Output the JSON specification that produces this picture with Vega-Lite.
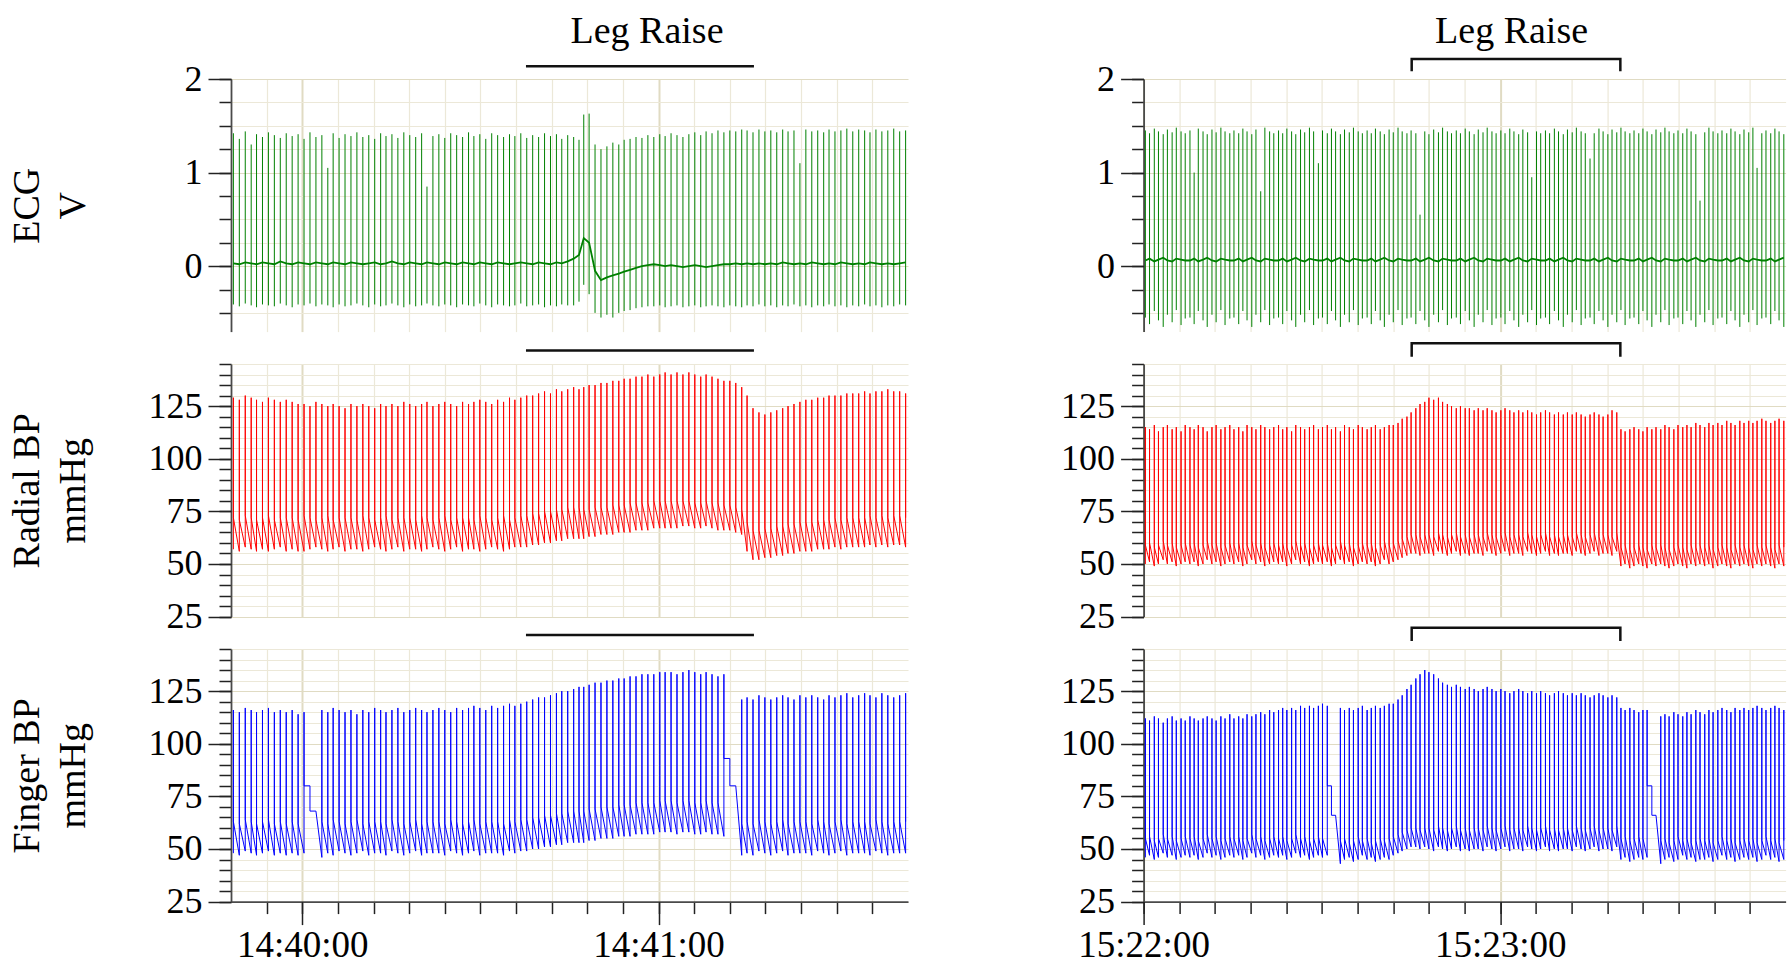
{
"$schema": "https://vega.github.io/schema/vega-lite/v6.json",
"background": "white",
"padding": {"left": 8, "top": 12, "right": 0, "bottom": 0},
"config": {
 "view": {"stroke": null},
 "font": "Liberation Serif",
 "axis": {"labelFont": "Liberation Serif", "labelFontSize": 36, "labelColor": "#000000", "titleFont": "Liberation Serif", "titleFontSize": 38, "titleFontWeight": "normal", "titleColor": "#000000", "titleLineHeight": 46, "domainColor": "#4a4a4a", "domainWidth": 1.8, "tickColor": "#222222", "tickWidth": 1.5, "gridColor": "#ece8d8", "gridWidth": 1.2, "labelPadding": 6, "labelOverlap": false, "labelFlush": false, "labelBound": false},
 "axisX": {"labelFontSize": 37, "labelPadding": 3}
},
"datasets": {
"L": [
{"t":-11.6,"e1":0.03,"e2":1.42,"e3":-0.41,"r1":57,"r2":129,"r3":72,"f1":48,"f2":116,"f3":63},
{"t":-10.6,"e1":0.02,"e2":1.36,"e3":-0.43,"r1":56,"r2":128,"r3":71,"f1":47,"f2":115,"f3":62},
{"t":-9.6,"e1":0.04,"e2":1.44,"e3":-0.40,"r1":58,"r2":130,"r3":73,"f1":49,"f2":117,"f3":64},
{"t":-8.6,"e1":0.03,"e2":1.30,"e3":-0.42,"r1":57,"r2":129,"r3":72,"f1":48,"f2":116,"f3":63},
{"t":-7.7,"e1":0.02,"e2":1.41,"e3":-0.44,"r1":56,"r2":128,"r3":71,"f1":47,"f2":115,"f3":62},
{"t":-6.7,"e1":0.04,"e2":1.38,"e3":-0.41,"r1":57,"r2":127,"r3":72,"f1":48,"f2":116,"f3":63},
{"t":-5.7,"e1":0.03,"e2":1.43,"e3":-0.42,"r1":56,"r2":129,"r3":73,"f1":49,"f2":117,"f3":64},
{"t":-4.7,"e1":0.02,"e2":1.40,"e3":-0.43,"r1":57,"r2":128,"r3":71,"f1":47,"f2":115,"f3":62},
{"t":-3.7,"e1":0.05,"e2":1.37,"e3":-0.40,"r1":58,"r2":127,"r3":72,"f1":48,"f2":116,"f3":63},
{"t":-2.7,"e1":0.03,"e2":1.42,"e3":-0.42,"r1":56,"r2":128,"r3":72,"f1":47,"f2":115,"f3":62},
{"t":-1.7,"e1":0.02,"e2":1.39,"e3":-0.44,"r1":57,"r2":127,"r3":72,"f1":48,"f2":116,"f3":63},
{"t":-0.7,"e1":0.04,"e2":1.41,"e3":-0.41,"r1":56,"r2":126,"r3":71,"f1":47,"f2":114,"f3":62},
{"t":0.3,"e1":0.03,"e2":1.36,"e3":-0.42,"r1":56,"r2":126,"r3":73,"f1":48,"f2":115,"f3":80},
{"t":1.3,"e1":0.02,"e2":1.43,"e3":-0.40,"r1":57,"r2":125,"r3":72,"f1":80,"f2":80,"f3":68},
{"t":2.3,"e1":0.04,"e2":1.38,"e3":-0.43,"r1":58,"r2":127,"r3":71,"f1":68,"f2":68,"f3":68},
{"t":3.3,"e1":0.03,"e2":1.40,"e3":-0.41,"r1":57,"r2":126,"r3":72,"f1":46,"f2":116,"f3":63},
{"t":4.3,"e1":0.02,"e2":1.05,"e3":-0.42,"r1":56,"r2":125,"r3":73,"f1":48,"f2":115,"f3":62},
{"t":5.2,"e1":0.04,"e2":1.42,"e3":-0.44,"r1":57,"r2":126,"r3":71,"f1":47,"f2":117,"f3":64},
{"t":6.2,"e1":0.03,"e2":1.37,"e3":-0.41,"r1":58,"r2":125,"r3":72,"f1":49,"f2":116,"f3":63},
{"t":7.2,"e1":0.02,"e2":1.41,"e3":-0.43,"r1":56,"r2":124,"r3":72,"f1":48,"f2":115,"f3":62},
{"t":8.2,"e1":0.04,"e2":1.39,"e3":-0.42,"r1":57,"r2":126,"r3":72,"f1":47,"f2":116,"f3":63},
{"t":9.2,"e1":0.03,"e2":1.43,"e3":-0.40,"r1":57,"r2":125,"r3":71,"f1":48,"f2":114,"f3":64},
{"t":10.2,"e1":0.02,"e2":1.38,"e3":-0.42,"r1":56,"r2":126,"r3":73,"f1":49,"f2":116,"f3":62},
{"t":11.2,"e1":0.03,"e2":1.40,"e3":-0.44,"r1":57,"r2":125,"r3":72,"f1":47,"f2":115,"f3":63},
{"t":12.2,"e1":0.04,"e2":1.36,"e3":-0.41,"r1":58,"r2":124,"r3":71,"f1":48,"f2":117,"f3":63},
{"t":13.2,"e1":0.02,"e2":1.42,"e3":-0.43,"r1":57,"r2":126,"r3":72,"f1":48,"f2":116,"f3":63},
{"t":14.1,"e1":0.03,"e2":1.39,"e3":-0.42,"r1":56,"r2":125,"r3":73,"f1":47,"f2":115,"f3":62},
{"t":15.1,"e1":0.05,"e2":1.41,"e3":-0.40,"r1":57,"r2":126,"r3":71,"f1":49,"f2":116,"f3":64},
{"t":16.1,"e1":0.03,"e2":1.37,"e3":-0.42,"r1":58,"r2":125,"r3":72,"f1":48,"f2":117,"f3":63},
{"t":17.1,"e1":0.02,"e2":1.43,"e3":-0.44,"r1":56,"r2":127,"r3":72,"f1":47,"f2":115,"f3":62},
{"t":18.1,"e1":0.04,"e2":1.40,"e3":-0.41,"r1":57,"r2":126,"r3":72,"f1":48,"f2":116,"f3":63},
{"t":19.1,"e1":0.03,"e2":1.38,"e3":-0.43,"r1":57,"r2":125,"r3":71,"f1":49,"f2":117,"f3":64},
{"t":20.1,"e1":0.02,"e2":1.42,"e3":-0.42,"r1":56,"r2":126,"r3":73,"f1":47,"f2":116,"f3":62},
{"t":21.0,"e1":0.04,"e2":0.85,"e3":-0.40,"r1":57,"r2":127,"r3":72,"f1":48,"f2":115,"f3":63},
{"t":22.0,"e1":0.03,"e2":1.39,"e3":-0.42,"r1":58,"r2":125,"r3":71,"f1":48,"f2":116,"f3":63},
{"t":23.0,"e1":0.02,"e2":1.41,"e3":-0.43,"r1":57,"r2":126,"r3":72,"f1":48,"f2":117,"f3":63},
{"t":24.0,"e1":0.04,"e2":1.37,"e3":-0.41,"r1":56,"r2":127,"r3":73,"f1":47,"f2":116,"f3":62},
{"t":25.0,"e1":0.03,"e2":1.42,"e3":-0.42,"r1":57,"r2":126,"r3":71,"f1":49,"f2":115,"f3":64},
{"t":26.0,"e1":0.02,"e2":1.40,"e3":-0.44,"r1":58,"r2":125,"r3":72,"f1":48,"f2":117,"f3":63},
{"t":27.0,"e1":0.04,"e2":1.38,"e3":-0.41,"r1":56,"r2":127,"r3":72,"f1":47,"f2":116,"f3":62},
{"t":28.0,"e1":0.03,"e2":1.43,"e3":-0.42,"r1":57,"r2":126,"r3":72,"f1":48,"f2":117,"f3":63},
{"t":28.9,"e1":0.02,"e2":1.39,"e3":-0.43,"r1":57,"r2":127,"r3":71,"f1":49,"f2":118,"f3":64},
{"t":29.9,"e1":0.04,"e2":1.41,"e3":-0.40,"r1":56,"r2":128,"r3":73,"f1":47,"f2":117,"f3":62},
{"t":30.9,"e1":0.03,"e2":1.36,"e3":-0.42,"r1":57,"r2":127,"r3":72,"f1":48,"f2":116,"f3":63},
{"t":31.9,"e1":0.02,"e2":1.42,"e3":-0.44,"r1":58,"r2":126,"r3":71,"f1":48,"f2":118,"f3":63},
{"t":32.9,"e1":0.04,"e2":1.40,"e3":-0.41,"r1":57,"r2":128,"r3":72,"f1":48,"f2":117,"f3":63},
{"t":33.9,"e1":0.03,"e2":1.38,"e3":-0.42,"r1":56,"r2":127,"r3":73,"f1":47,"f2":118,"f3":62},
{"t":34.9,"e1":0.02,"e2":1.41,"e3":-0.43,"r1":57,"r2":129,"r3":71,"f1":49,"f2":119,"f3":64},
{"t":35.8,"e1":0.03,"e2":1.39,"e3":-0.42,"r1":58,"r2":128,"r3":72,"f1":48,"f2":118,"f3":63},
{"t":36.8,"e1":0.04,"e2":1.42,"e3":-0.40,"r1":58,"r2":129,"r3":73,"f1":49,"f2":119,"f3":64},
{"t":37.8,"e1":0.03,"e2":1.37,"e3":-0.43,"r1":58,"r2":130,"r3":73,"f1":49,"f2":120,"f3":64},
{"t":38.8,"e1":0.02,"e2":1.40,"e3":-0.42,"r1":59,"r2":130,"r3":74,"f1":50,"f2":121,"f3":65},
{"t":39.8,"e1":0.04,"e2":1.38,"e3":-0.41,"r1":59,"r2":131,"r3":74,"f1":50,"f2":122,"f3":65},
{"t":40.8,"e1":0.03,"e2":1.42,"e3":-0.44,"r1":60,"r2":132,"r3":75,"f1":51,"f2":122,"f3":66},
{"t":41.8,"e1":0.02,"e2":1.39,"e3":-0.42,"r1":60,"r2":131,"r3":75,"f1":51,"f2":123,"f3":66},
{"t":42.8,"e1":0.04,"e2":1.41,"e3":-0.43,"r1":61,"r2":133,"r3":76,"f1":52,"f2":124,"f3":67},
{"t":43.7,"e1":0.03,"e2":1.36,"e3":-0.41,"r1":61,"r2":132,"r3":76,"f1":52,"f2":125,"f3":67},
{"t":44.7,"e1":0.05,"e2":1.40,"e3":-0.42,"r1":62,"r2":133,"r3":77,"f1":53,"f2":125,"f3":68},
{"t":45.7,"e1":0.08,"e2":1.38,"e3":-0.42,"r1":62,"r2":134,"r3":77,"f1":53,"f2":126,"f3":68},
{"t":46.6,"e1":0.12,"e2":1.35,"e3":-0.38,"r1":62,"r2":133,"r3":77,"f1":53,"f2":127,"f3":68},
{"t":47.4,"e1":0.30,"e2":1.62,"e3":-0.20,"r1":62,"r2":134,"r3":76,"f1":53,"f2":127,"f3":68},
{"t":48.3,"e1":0.25,"e2":1.63,"e3":-0.30,"r1":63,"r2":135,"r3":76,"f1":54,"f2":128,"f3":69},
{"t":49.3,"e1":-0.05,"e2":1.30,"e3":-0.50,"r1":63,"r2":135,"r3":77,"f1":54,"f2":129,"f3":69},
{"t":50.3,"e1":-0.15,"e2":1.25,"e3":-0.55,"r1":64,"r2":136,"r3":77,"f1":55,"f2":129,"f3":70},
{"t":51.3,"e1":-0.12,"e2":1.28,"e3":-0.52,"r1":64,"r2":136,"r3":77,"f1":55,"f2":130,"f3":70},
{"t":52.3,"e1":-0.10,"e2":1.32,"e3":-0.55,"r1":64,"r2":137,"r3":78,"f1":55,"f2":130,"f3":70},
{"t":53.3,"e1":-0.08,"e2":1.30,"e3":-0.50,"r1":65,"r2":137,"r3":78,"f1":56,"f2":131,"f3":71},
{"t":54.2,"e1":-0.06,"e2":1.35,"e3":-0.48,"r1":65,"r2":138,"r3":78,"f1":56,"f2":131,"f3":71},
{"t":55.2,"e1":-0.04,"e2":1.36,"e3":-0.47,"r1":65,"r2":138,"r3":79,"f1":56,"f2":132,"f3":71},
{"t":56.2,"e1":-0.02,"e2":1.38,"e3":-0.45,"r1":66,"r2":139,"r3":79,"f1":57,"f2":132,"f3":72},
{"t":57.2,"e1":0.00,"e2":1.37,"e3":-0.44,"r1":66,"r2":139,"r3":79,"f1":57,"f2":133,"f3":72},
{"t":58.2,"e1":0.01,"e2":1.40,"e3":-0.43,"r1":66,"r2":140,"r3":79,"f1":57,"f2":133,"f3":72},
{"t":59.2,"e1":0.02,"e2":1.38,"e3":-0.43,"r1":67,"r2":139,"r3":80,"f1":57,"f2":133,"f3":72},
{"t":60.2,"e1":0.01,"e2":1.41,"e3":-0.42,"r1":67,"r2":140,"r3":80,"f1":58,"f2":134,"f3":73},
{"t":61.1,"e1":0.00,"e2":1.39,"e3":-0.44,"r1":67,"r2":141,"r3":80,"f1":58,"f2":134,"f3":73},
{"t":62.1,"e1":0.01,"e2":1.42,"e3":-0.43,"r1":67,"r2":140,"r3":80,"f1":58,"f2":134,"f3":73},
{"t":63.1,"e1":0.00,"e2":1.40,"e3":-0.42,"r1":67,"r2":141,"r3":80,"f1":57,"f2":133,"f3":72},
{"t":64.1,"e1":-0.01,"e2":1.38,"e3":-0.44,"r1":68,"r2":140,"r3":80,"f1":58,"f2":134,"f3":73},
{"t":65.1,"e1":0.00,"e2":1.41,"e3":-0.43,"r1":68,"r2":141,"r3":80,"f1":58,"f2":135,"f3":73},
{"t":66.1,"e1":0.01,"e2":1.43,"e3":-0.42,"r1":67,"r2":140,"r3":79,"f1":57,"f2":134,"f3":72},
{"t":67.1,"e1":0.00,"e2":1.40,"e3":-0.44,"r1":67,"r2":139,"r3":79,"f1":57,"f2":133,"f3":72},
{"t":68.0,"e1":-0.01,"e2":1.44,"e3":-0.43,"r1":68,"r2":140,"r3":80,"f1":58,"f2":134,"f3":73},
{"t":69.0,"e1":0.00,"e2":1.42,"e3":-0.42,"r1":67,"r2":139,"r3":79,"f1":57,"f2":133,"f3":72},
{"t":70.0,"e1":0.01,"e2":1.45,"e3":-0.43,"r1":66,"r2":138,"r3":79,"f1":57,"f2":132,"f3":72},
{"t":71.0,"e1":0.02,"e2":1.43,"e3":-0.44,"r1":66,"r2":137,"r3":78,"f1":56,"f2":133,"f3":93},
{"t":72.0,"e1":0.02,"e2":1.45,"e3":-0.42,"r1":66,"r2":137,"r3":78,"f1":93,"f2":93,"f3":80},
{"t":73.0,"e1":0.03,"e2":1.44,"e3":-0.43,"r1":65,"r2":136,"r3":77,"f1":80,"f2":80,"f3":80},
{"t":74.0,"e1":0.02,"e2":1.46,"e3":-0.44,"r1":64,"r2":134,"r3":76,"f1":47,"f2":121,"f3":62},
{"t":74.9,"e1":0.03,"e2":1.45,"e3":-0.42,"r1":56,"r2":130,"r3":70,"f1":48,"f2":122,"f3":63},
{"t":75.9,"e1":0.02,"e2":1.43,"e3":-0.43,"r1":52,"r2":124,"r3":66,"f1":47,"f2":121,"f3":62},
{"t":76.9,"e1":0.03,"e2":1.46,"e3":-0.41,"r1":52,"r2":122,"r3":66,"f1":49,"f2":123,"f3":64},
{"t":77.9,"e1":0.02,"e2":1.44,"e3":-0.43,"r1":53,"r2":121,"r3":67,"f1":48,"f2":122,"f3":63},
{"t":78.9,"e1":0.03,"e2":1.45,"e3":-0.42,"r1":53,"r2":122,"r3":67,"f1":47,"f2":121,"f3":62},
{"t":79.9,"e1":0.02,"e2":1.43,"e3":-0.44,"r1":54,"r2":123,"r3":68,"f1":48,"f2":122,"f3":63},
{"t":80.9,"e1":0.04,"e2":1.46,"e3":-0.42,"r1":54,"r2":124,"r3":68,"f1":49,"f2":123,"f3":64},
{"t":81.8,"e1":0.03,"e2":1.44,"e3":-0.43,"r1":55,"r2":125,"r3":69,"f1":47,"f2":122,"f3":62},
{"t":82.8,"e1":0.02,"e2":1.45,"e3":-0.41,"r1":55,"r2":126,"r3":69,"f1":48,"f2":121,"f3":63},
{"t":83.8,"e1":0.03,"e2":1.10,"e3":-0.43,"r1":56,"r2":127,"r3":70,"f1":48,"f2":123,"f3":63},
{"t":84.8,"e1":0.02,"e2":1.46,"e3":-0.42,"r1":56,"r2":128,"r3":70,"f1":48,"f2":122,"f3":63},
{"t":85.8,"e1":0.04,"e2":1.44,"e3":-0.44,"r1":56,"r2":128,"r3":70,"f1":47,"f2":123,"f3":62},
{"t":86.8,"e1":0.03,"e2":1.45,"e3":-0.42,"r1":57,"r2":129,"r3":71,"f1":49,"f2":122,"f3":64},
{"t":87.8,"e1":0.02,"e2":1.43,"e3":-0.43,"r1":57,"r2":129,"r3":71,"f1":48,"f2":121,"f3":63},
{"t":88.7,"e1":0.03,"e2":1.46,"e3":-0.41,"r1":57,"r2":130,"r3":71,"f1":47,"f2":123,"f3":62},
{"t":89.7,"e1":0.02,"e2":1.44,"e3":-0.43,"r1":58,"r2":130,"r3":72,"f1":48,"f2":122,"f3":63},
{"t":90.7,"e1":0.04,"e2":1.45,"e3":-0.42,"r1":57,"r2":130,"r3":71,"f1":49,"f2":123,"f3":64},
{"t":91.7,"e1":0.03,"e2":1.47,"e3":-0.44,"r1":58,"r2":131,"r3":72,"f1":47,"f2":124,"f3":62},
{"t":92.7,"e1":0.02,"e2":1.44,"e3":-0.42,"r1":58,"r2":131,"r3":72,"f1":48,"f2":122,"f3":63},
{"t":93.7,"e1":0.03,"e2":1.46,"e3":-0.43,"r1":58,"r2":131,"r3":72,"f1":48,"f2":123,"f3":63},
{"t":94.7,"e1":0.02,"e2":1.45,"e3":-0.41,"r1":58,"r2":132,"r3":72,"f1":48,"f2":124,"f3":63},
{"t":95.6,"e1":0.04,"e2":1.43,"e3":-0.43,"r1":59,"r2":131,"r3":73,"f1":47,"f2":123,"f3":62},
{"t":96.6,"e1":0.03,"e2":1.46,"e3":-0.42,"r1":58,"r2":132,"r3":72,"f1":49,"f2":122,"f3":64},
{"t":97.6,"e1":0.02,"e2":1.44,"e3":-0.44,"r1":59,"r2":132,"r3":73,"f1":48,"f2":124,"f3":63},
{"t":98.6,"e1":0.03,"e2":1.45,"e3":-0.42,"r1":58,"r2":133,"r3":72,"f1":47,"f2":123,"f3":62},
{"t":99.6,"e1":0.02,"e2":1.47,"e3":-0.43,"r1":59,"r2":132,"r3":73,"f1":48,"f2":122,"f3":63},
{"t":100.6,"e1":0.03,"e2":1.44,"e3":-0.41,"r1":59,"r2":132,"r3":73,"f1":48,"f2":123,"f3":63},
{"t":101.6,"e1":0.04,"e2":1.45,"e3":-0.42,"r1":58,"r2":131,"r3":72,"f1":48,"f2":124,"f3":63}
],
"R": [
{"t":0.3,"e1":0.06,"e2":1.45,"e3":-0.55,"r1":50,"r2":115,"r3":59,"f1":46,"f2":112,"f3":55},
{"t":1.0,"e1":0.08,"e2":1.42,"e3":-0.62,"r1":51,"r2":114,"r3":60,"f1":47,"f2":111,"f3":56},
{"t":1.8,"e1":0.05,"e2":1.47,"e3":-0.48,"r1":49,"r2":116,"r3":58,"f1":45,"f2":113,"f3":54},
{"t":2.5,"e1":0.07,"e2":1.44,"e3":-0.58,"r1":50,"r2":113,"r3":59,"f1":46,"f2":112,"f3":55},
{"t":3.3,"e1":0.09,"e2":1.41,"e3":-0.65,"r1":52,"r2":115,"r3":61,"f1":48,"f2":110,"f3":57},
{"t":4.0,"e1":0.06,"e2":1.46,"e3":-0.52,"r1":50,"r2":116,"r3":59,"f1":46,"f2":112,"f3":55},
{"t":4.8,"e1":0.05,"e2":1.43,"e3":-0.60,"r1":51,"r2":114,"r3":60,"f1":47,"f2":113,"f3":56},
{"t":5.5,"e1":0.08,"e2":1.48,"e3":-0.47,"r1":49,"r2":115,"r3":58,"f1":45,"f2":111,"f3":54},
{"t":6.3,"e1":0.07,"e2":1.44,"e3":-0.63,"r1":50,"r2":113,"r3":59,"f1":46,"f2":112,"f3":55},
{"t":7.0,"e1":0.06,"e2":1.42,"e3":-0.56,"r1":51,"r2":116,"r3":60,"f1":47,"f2":111,"f3":56},
{"t":7.8,"e1":0.06,"e2":1.45,"e3":-0.55,"r1":50,"r2":115,"r3":59,"f1":46,"f2":113,"f3":55},
{"t":8.5,"e1":0.08,"e2":1.00,"e3":-0.62,"r1":51,"r2":114,"r3":60,"f1":47,"f2":112,"f3":56},
{"t":9.2,"e1":0.05,"e2":1.47,"e3":-0.48,"r1":49,"r2":116,"r3":58,"f1":45,"f2":111,"f3":54},
{"t":10.0,"e1":0.07,"e2":1.44,"e3":-0.58,"r1":50,"r2":115,"r3":59,"f1":46,"f2":112,"f3":55},
{"t":10.7,"e1":0.09,"e2":1.41,"e3":-0.65,"r1":52,"r2":113,"r3":61,"f1":48,"f2":113,"f3":57},
{"t":11.5,"e1":0.06,"e2":1.46,"e3":-0.52,"r1":50,"r2":115,"r3":59,"f1":46,"f2":112,"f3":55},
{"t":12.2,"e1":0.05,"e2":1.43,"e3":-0.60,"r1":51,"r2":116,"r3":60,"f1":47,"f2":111,"f3":56},
{"t":13.0,"e1":0.08,"e2":1.48,"e3":-0.47,"r1":49,"r2":114,"r3":58,"f1":45,"f2":113,"f3":54},
{"t":13.7,"e1":0.07,"e2":1.44,"e3":-0.63,"r1":50,"r2":115,"r3":59,"f1":46,"f2":112,"f3":55},
{"t":14.5,"e1":0.06,"e2":1.42,"e3":-0.56,"r1":51,"r2":116,"r3":60,"f1":47,"f2":114,"f3":56},
{"t":15.2,"e1":0.06,"e2":1.45,"e3":-0.55,"r1":50,"r2":114,"r3":59,"f1":46,"f2":112,"f3":55},
{"t":16.0,"e1":0.08,"e2":1.42,"e3":-0.62,"r1":51,"r2":115,"r3":60,"f1":47,"f2":113,"f3":56},
{"t":16.7,"e1":0.05,"e2":1.47,"e3":-0.48,"r1":49,"r2":113,"r3":58,"f1":45,"f2":112,"f3":54},
{"t":17.4,"e1":0.07,"e2":1.44,"e3":-0.58,"r1":50,"r2":116,"r3":59,"f1":46,"f2":114,"f3":55},
{"t":18.2,"e1":0.09,"e2":1.41,"e3":-0.65,"r1":52,"r2":115,"r3":61,"f1":48,"f2":113,"f3":57},
{"t":18.9,"e1":0.06,"e2":1.46,"e3":-0.52,"r1":50,"r2":114,"r3":59,"f1":46,"f2":114,"f3":55},
{"t":19.7,"e1":0.05,"e2":0.80,"e3":-0.60,"r1":51,"r2":116,"r3":60,"f1":47,"f2":115,"f3":56},
{"t":20.4,"e1":0.08,"e2":1.48,"e3":-0.47,"r1":49,"r2":115,"r3":58,"f1":45,"f2":114,"f3":54},
{"t":21.2,"e1":0.07,"e2":1.44,"e3":-0.63,"r1":50,"r2":114,"r3":59,"f1":46,"f2":116,"f3":55},
{"t":21.9,"e1":0.06,"e2":1.42,"e3":-0.56,"r1":51,"r2":115,"r3":60,"f1":47,"f2":115,"f3":56},
{"t":22.7,"e1":0.06,"e2":1.45,"e3":-0.55,"r1":50,"r2":116,"r3":59,"f1":46,"f2":116,"f3":55},
{"t":23.4,"e1":0.08,"e2":1.42,"e3":-0.62,"r1":51,"r2":114,"r3":60,"f1":47,"f2":117,"f3":56},
{"t":24.1,"e1":0.05,"e2":1.47,"e3":-0.48,"r1":49,"r2":115,"r3":58,"f1":45,"f2":116,"f3":54},
{"t":24.9,"e1":0.07,"e2":1.44,"e3":-0.58,"r1":50,"r2":113,"r3":59,"f1":46,"f2":117,"f3":55},
{"t":25.6,"e1":0.09,"e2":1.41,"e3":-0.65,"r1":52,"r2":116,"r3":61,"f1":48,"f2":116,"f3":57},
{"t":26.4,"e1":0.06,"e2":1.46,"e3":-0.52,"r1":50,"r2":115,"r3":59,"f1":46,"f2":118,"f3":55},
{"t":27.1,"e1":0.05,"e2":1.43,"e3":-0.60,"r1":51,"r2":114,"r3":60,"f1":47,"f2":117,"f3":56},
{"t":27.9,"e1":0.08,"e2":1.48,"e3":-0.47,"r1":49,"r2":115,"r3":58,"f1":45,"f2":118,"f3":54},
{"t":28.6,"e1":0.07,"e2":1.44,"e3":-0.63,"r1":50,"r2":116,"r3":59,"f1":46,"f2":117,"f3":55},
{"t":29.4,"e1":0.06,"e2":1.10,"e3":-0.56,"r1":51,"r2":114,"r3":60,"f1":47,"f2":118,"f3":56},
{"t":30.1,"e1":0.06,"e2":1.45,"e3":-0.55,"r1":50,"r2":115,"r3":59,"f1":46,"f2":119,"f3":55},
{"t":30.9,"e1":0.08,"e2":1.42,"e3":-0.62,"r1":51,"r2":116,"r3":60,"f1":47,"f2":118,"f3":80},
{"t":31.6,"e1":0.05,"e2":1.47,"e3":-0.48,"r1":49,"r2":114,"r3":58,"f1":80,"f2":80,"f3":66},
{"t":32.3,"e1":0.07,"e2":1.44,"e3":-0.58,"r1":50,"r2":115,"r3":59,"f1":66,"f2":66,"f3":66},
{"t":33.1,"e1":0.09,"e2":1.41,"e3":-0.65,"r1":52,"r2":113,"r3":61,"f1":43,"f2":117,"f3":54},
{"t":33.8,"e1":0.06,"e2":1.46,"e3":-0.52,"r1":50,"r2":116,"r3":59,"f1":45,"f2":116,"f3":55},
{"t":34.6,"e1":0.05,"e2":1.43,"e3":-0.60,"r1":51,"r2":115,"r3":60,"f1":46,"f2":117,"f3":53},
{"t":35.3,"e1":0.08,"e2":1.48,"e3":-0.47,"r1":49,"r2":114,"r3":58,"f1":44,"f2":116,"f3":54},
{"t":36.1,"e1":0.07,"e2":1.44,"e3":-0.63,"r1":50,"r2":116,"r3":59,"f1":45,"f2":117,"f3":56},
{"t":36.8,"e1":0.06,"e2":1.42,"e3":-0.56,"r1":51,"r2":115,"r3":60,"f1":47,"f2":118,"f3":54},
{"t":37.6,"e1":0.06,"e2":1.45,"e3":-0.55,"r1":50,"r2":114,"r3":59,"f1":45,"f2":116,"f3":55},
{"t":38.3,"e1":0.08,"e2":1.42,"e3":-0.62,"r1":51,"r2":115,"r3":60,"f1":46,"f2":117,"f3":53},
{"t":39.0,"e1":0.05,"e2":1.47,"e3":-0.48,"r1":49,"r2":116,"r3":58,"f1":44,"f2":118,"f3":54},
{"t":39.8,"e1":0.07,"e2":1.44,"e3":-0.58,"r1":50,"r2":114,"r3":59,"f1":45,"f2":117,"f3":55},
{"t":40.5,"e1":0.09,"e2":1.41,"e3":-0.65,"r1":52,"r2":115,"r3":61,"f1":46,"f2":118,"f3":54},
{"t":41.3,"e1":0.06,"e2":1.46,"e3":-0.52,"r1":50,"r2":116,"r3":59,"f1":45,"f2":119,"f3":55},
{"t":42.0,"e1":0.05,"e2":1.43,"e3":-0.60,"r1":51,"r2":116,"r3":60,"f1":47,"f2":119,"f3":56},
{"t":42.8,"e1":0.08,"e2":1.48,"e3":-0.47,"r1":52,"r2":117,"r3":61,"f1":48,"f2":121,"f3":57},
{"t":43.5,"e1":0.07,"e2":1.44,"e3":-0.63,"r1":53,"r2":119,"r3":62,"f1":49,"f2":123,"f3":58},
{"t":44.3,"e1":0.06,"e2":1.42,"e3":-0.56,"r1":54,"r2":120,"r3":63,"f1":50,"f2":126,"f3":59},
{"t":45.0,"e1":0.06,"e2":1.45,"e3":-0.55,"r1":55,"r2":122,"r3":64,"f1":51,"f2":128,"f3":60},
{"t":45.8,"e1":0.08,"e2":1.42,"e3":-0.62,"r1":55,"r2":124,"r3":64,"f1":51,"f2":131,"f3":60},
{"t":46.5,"e1":0.05,"e2":0.55,"e3":-0.48,"r1":54,"r2":126,"r3":63,"f1":50,"f2":133,"f3":59},
{"t":47.3,"e1":0.07,"e2":1.44,"e3":-0.58,"r1":55,"r2":127,"r3":64,"f1":51,"f2":135,"f3":60},
{"t":48.0,"e1":0.09,"e2":1.41,"e3":-0.65,"r1":55,"r2":129,"r3":64,"f1":50,"f2":134,"f3":60},
{"t":48.8,"e1":0.06,"e2":1.46,"e3":-0.52,"r1":54,"r2":128,"r3":63,"f1":49,"f2":133,"f3":59},
{"t":49.6,"e1":0.05,"e2":1.43,"e3":-0.60,"r1":56,"r2":129,"r3":65,"f1":51,"f2":131,"f3":61},
{"t":50.3,"e1":0.08,"e2":1.48,"e3":-0.47,"r1":55,"r2":127,"r3":64,"f1":50,"f2":129,"f3":60},
{"t":51.1,"e1":0.07,"e2":1.44,"e3":-0.63,"r1":54,"r2":126,"r3":63,"f1":49,"f2":128,"f3":59},
{"t":51.8,"e1":0.06,"e2":1.42,"e3":-0.56,"r1":55,"r2":125,"r3":64,"f1":50,"f2":127,"f3":60},
{"t":52.6,"e1":0.06,"e2":1.45,"e3":-0.55,"r1":56,"r2":124,"r3":65,"f1":51,"f2":128,"f3":61},
{"t":53.3,"e1":0.08,"e2":1.42,"e3":-0.62,"r1":54,"r2":125,"r3":63,"f1":49,"f2":127,"f3":59},
{"t":54.1,"e1":0.05,"e2":1.47,"e3":-0.48,"r1":55,"r2":124,"r3":64,"f1":50,"f2":126,"f3":60},
{"t":54.8,"e1":0.07,"e2":1.44,"e3":-0.58,"r1":54,"r2":124,"r3":63,"f1":49,"f2":127,"f3":59},
{"t":55.6,"e1":0.09,"e2":1.41,"e3":-0.65,"r1":55,"r2":123,"r3":64,"f1":50,"f2":126,"f3":60},
{"t":56.3,"e1":0.06,"e2":1.46,"e3":-0.52,"r1":55,"r2":124,"r3":64,"f1":50,"f2":125,"f3":60},
{"t":57.1,"e1":0.05,"e2":1.43,"e3":-0.60,"r1":54,"r2":123,"r3":63,"f1":49,"f2":126,"f3":59},
{"t":57.8,"e1":0.08,"e2":1.48,"e3":-0.47,"r1":56,"r2":124,"r3":65,"f1":51,"f2":127,"f3":61},
{"t":58.6,"e1":0.07,"e2":1.44,"e3":-0.63,"r1":55,"r2":123,"r3":64,"f1":50,"f2":126,"f3":60},
{"t":59.3,"e1":0.06,"e2":1.42,"e3":-0.56,"r1":54,"r2":122,"r3":63,"f1":49,"f2":125,"f3":59},
{"t":60.1,"e1":0.06,"e2":1.45,"e3":-0.55,"r1":55,"r2":123,"r3":64,"f1":50,"f2":126,"f3":60},
{"t":60.8,"e1":0.08,"e2":1.42,"e3":-0.62,"r1":56,"r2":124,"r3":65,"f1":51,"f2":125,"f3":61},
{"t":61.6,"e1":0.05,"e2":1.47,"e3":-0.48,"r1":54,"r2":123,"r3":63,"f1":49,"f2":124,"f3":59},
{"t":62.3,"e1":0.07,"e2":1.44,"e3":-0.58,"r1":55,"r2":122,"r3":64,"f1":50,"f2":125,"f3":60},
{"t":63.1,"e1":0.09,"e2":1.41,"e3":-0.65,"r1":55,"r2":123,"r3":64,"f1":50,"f2":126,"f3":60},
{"t":63.8,"e1":0.06,"e2":1.46,"e3":-0.52,"r1":54,"r2":122,"r3":63,"f1":49,"f2":125,"f3":59},
{"t":64.6,"e1":0.05,"e2":1.43,"e3":-0.60,"r1":56,"r2":123,"r3":65,"f1":51,"f2":124,"f3":61},
{"t":65.3,"e1":0.08,"e2":0.95,"e3":-0.47,"r1":55,"r2":122,"r3":64,"f1":50,"f2":125,"f3":60},
{"t":66.1,"e1":0.07,"e2":1.44,"e3":-0.63,"r1":54,"r2":121,"r3":63,"f1":49,"f2":124,"f3":59},
{"t":66.8,"e1":0.06,"e2":1.42,"e3":-0.56,"r1":55,"r2":122,"r3":64,"f1":50,"f2":125,"f3":60},
{"t":67.6,"e1":0.06,"e2":1.45,"e3":-0.55,"r1":56,"r2":123,"r3":65,"f1":51,"f2":124,"f3":61},
{"t":68.3,"e1":0.08,"e2":1.42,"e3":-0.62,"r1":54,"r2":122,"r3":63,"f1":49,"f2":123,"f3":59},
{"t":69.1,"e1":0.05,"e2":1.47,"e3":-0.48,"r1":55,"r2":121,"r3":64,"f1":50,"f2":124,"f3":60},
{"t":69.8,"e1":0.07,"e2":1.44,"e3":-0.58,"r1":54,"r2":122,"r3":63,"f1":49,"f2":125,"f3":59},
{"t":70.6,"e1":0.09,"e2":1.41,"e3":-0.65,"r1":55,"r2":121,"r3":64,"f1":50,"f2":124,"f3":60},
{"t":71.3,"e1":0.06,"e2":1.46,"e3":-0.52,"r1":55,"r2":122,"r3":64,"f1":50,"f2":123,"f3":60},
{"t":72.1,"e1":0.05,"e2":1.43,"e3":-0.60,"r1":54,"r2":121,"r3":63,"f1":49,"f2":124,"f3":59},
{"t":72.8,"e1":0.08,"e2":1.48,"e3":-0.47,"r1":56,"r2":122,"r3":65,"f1":51,"f2":123,"f3":61},
{"t":73.6,"e1":0.07,"e2":1.44,"e3":-0.63,"r1":55,"r2":121,"r3":64,"f1":50,"f2":124,"f3":60},
{"t":74.3,"e1":0.06,"e2":1.42,"e3":-0.56,"r1":54,"r2":120,"r3":63,"f1":49,"f2":123,"f3":59},
{"t":75.1,"e1":0.06,"e2":1.15,"e3":-0.55,"r1":55,"r2":121,"r3":64,"f1":50,"f2":122,"f3":60},
{"t":75.8,"e1":0.08,"e2":1.42,"e3":-0.62,"r1":56,"r2":122,"r3":65,"f1":51,"f2":123,"f3":61},
{"t":76.6,"e1":0.05,"e2":1.47,"e3":-0.48,"r1":54,"r2":121,"r3":63,"f1":49,"f2":124,"f3":59},
{"t":77.3,"e1":0.07,"e2":1.44,"e3":-0.58,"r1":55,"r2":120,"r3":64,"f1":50,"f2":123,"f3":60},
{"t":78.1,"e1":0.09,"e2":1.41,"e3":-0.65,"r1":55,"r2":121,"r3":64,"f1":50,"f2":122,"f3":60},
{"t":78.8,"e1":0.06,"e2":1.46,"e3":-0.52,"r1":54,"r2":123,"r3":63,"f1":49,"f2":123,"f3":59},
{"t":79.6,"e1":0.05,"e2":1.43,"e3":-0.60,"r1":56,"r2":122,"r3":65,"f1":51,"f2":122,"f3":61},
{"t":80.3,"e1":0.08,"e2":1.48,"e3":-0.47,"r1":49,"r2":114,"r3":58,"f1":45,"f2":117,"f3":55},
{"t":81.0,"e1":0.07,"e2":1.44,"e3":-0.63,"r1":50,"r2":113,"r3":59,"f1":46,"f2":116,"f3":56},
{"t":81.8,"e1":0.06,"e2":1.42,"e3":-0.56,"r1":48,"r2":114,"r3":57,"f1":44,"f2":117,"f3":54},
{"t":82.5,"e1":0.06,"e2":1.45,"e3":-0.55,"r1":49,"r2":115,"r3":58,"f1":45,"f2":116,"f3":55},
{"t":83.3,"e1":0.08,"e2":1.42,"e3":-0.62,"r1":50,"r2":114,"r3":59,"f1":46,"f2":115,"f3":56},
{"t":84.0,"e1":0.05,"e2":1.47,"e3":-0.48,"r1":49,"r2":113,"r3":58,"f1":45,"f2":116,"f3":55},
{"t":84.7,"e1":0.07,"e2":1.44,"e3":-0.58,"r1":48,"r2":115,"r3":57,"f1":46,"f2":116,"f3":80},
{"t":85.5,"e1":0.09,"e2":1.41,"e3":-0.65,"r1":50,"r2":114,"r3":59,"f1":80,"f2":80,"f3":66},
{"t":86.2,"e1":0.06,"e2":1.46,"e3":-0.52,"r1":49,"r2":115,"r3":58,"f1":66,"f2":66,"f3":66},
{"t":87.0,"e1":0.05,"e2":1.43,"e3":-0.60,"r1":50,"r2":114,"r3":59,"f1":43,"f2":113,"f3":54},
{"t":87.7,"e1":0.08,"e2":1.48,"e3":-0.47,"r1":49,"r2":116,"r3":58,"f1":45,"f2":114,"f3":55},
{"t":88.4,"e1":0.07,"e2":1.44,"e3":-0.63,"r1":48,"r2":115,"r3":57,"f1":46,"f2":113,"f3":53},
{"t":89.2,"e1":0.06,"e2":1.42,"e3":-0.56,"r1":49,"r2":114,"r3":58,"f1":44,"f2":115,"f3":54},
{"t":89.9,"e1":0.06,"e2":1.45,"e3":-0.55,"r1":50,"r2":116,"r3":59,"f1":45,"f2":114,"f3":56},
{"t":90.7,"e1":0.08,"e2":1.42,"e3":-0.62,"r1":49,"r2":115,"r3":58,"f1":47,"f2":113,"f3":54},
{"t":91.4,"e1":0.05,"e2":1.47,"e3":-0.48,"r1":48,"r2":116,"r3":57,"f1":45,"f2":115,"f3":55},
{"t":92.1,"e1":0.07,"e2":1.44,"e3":-0.58,"r1":50,"r2":115,"r3":59,"f1":46,"f2":114,"f3":53},
{"t":92.9,"e1":0.09,"e2":1.41,"e3":-0.65,"r1":49,"r2":117,"r3":58,"f1":44,"f2":116,"f3":54},
{"t":93.6,"e1":0.06,"e2":0.70,"e3":-0.52,"r1":50,"r2":116,"r3":59,"f1":45,"f2":115,"f3":55},
{"t":94.4,"e1":0.05,"e2":1.43,"e3":-0.60,"r1":49,"r2":115,"r3":58,"f1":45,"f2":114,"f3":54},
{"t":95.1,"e1":0.08,"e2":1.48,"e3":-0.47,"r1":50,"r2":117,"r3":59,"f1":46,"f2":116,"f3":55},
{"t":95.8,"e1":0.07,"e2":1.44,"e3":-0.63,"r1":48,"r2":116,"r3":57,"f1":44,"f2":115,"f3":53},
{"t":96.6,"e1":0.06,"e2":1.42,"e3":-0.56,"r1":49,"r2":117,"r3":58,"f1":45,"f2":116,"f3":54},
{"t":97.3,"e1":0.06,"e2":1.45,"e3":-0.55,"r1":50,"r2":116,"r3":59,"f1":47,"f2":117,"f3":56},
{"t":98.1,"e1":0.08,"e2":1.42,"e3":-0.62,"r1":49,"r2":118,"r3":58,"f1":45,"f2":116,"f3":54},
{"t":98.8,"e1":0.05,"e2":1.47,"e3":-0.48,"r1":48,"r2":117,"r3":57,"f1":46,"f2":115,"f3":55},
{"t":99.5,"e1":0.07,"e2":1.44,"e3":-0.58,"r1":50,"r2":116,"r3":59,"f1":44,"f2":117,"f3":53},
{"t":100.3,"e1":0.09,"e2":1.41,"e3":-0.65,"r1":49,"r2":118,"r3":58,"f1":45,"f2":116,"f3":54},
{"t":101.0,"e1":0.06,"e2":1.46,"e3":-0.52,"r1":50,"r2":117,"r3":59,"f1":46,"f2":117,"f3":55},
{"t":101.8,"e1":0.05,"e2":1.43,"e3":-0.60,"r1":49,"r2":118,"r3":58,"f1":45,"f2":116,"f3":54},
{"t":102.5,"e1":0.08,"e2":1.48,"e3":-0.47,"r1":48,"r2":117,"r3":57,"f1":46,"f2":117,"f3":55},
{"t":103.2,"e1":0.07,"e2":1.05,"e3":-0.63,"r1":50,"r2":118,"r3":59,"f1":44,"f2":118,"f3":53},
{"t":104.0,"e1":0.06,"e2":1.42,"e3":-0.56,"r1":49,"r2":119,"r3":58,"f1":45,"f2":117,"f3":54},
{"t":104.7,"e1":0.06,"e2":1.45,"e3":-0.55,"r1":50,"r2":118,"r3":59,"f1":47,"f2":116,"f3":56},
{"t":105.5,"e1":0.08,"e2":1.42,"e3":-0.62,"r1":49,"r2":117,"r3":58,"f1":45,"f2":117,"f3":54},
{"t":106.2,"e1":0.05,"e2":1.47,"e3":-0.48,"r1":48,"r2":118,"r3":57,"f1":46,"f2":118,"f3":55},
{"t":106.9,"e1":0.07,"e2":1.44,"e3":-0.58,"r1":50,"r2":119,"r3":59,"f1":44,"f2":117,"f3":53},
{"t":107.7,"e1":0.09,"e2":1.41,"e3":-0.65,"r1":49,"r2":118,"r3":58,"f1":45,"f2":116,"f3":54}
],
"bars": [
{"p":"e","x":37.67,"x2":76.06,"y":2.136},
{"p":"r","x":37.67,"x2":76.06,"y":151.4},
{"p":"f","x":37.67,"x2":76.06,"y":151.6}
],
"brackets": [
{"p":"e","i":1,"x":45.1,"y":2.082},{"p":"e","i":2,"x":45.1,"y":2.214},{"p":"e","i":3,"x":80.2,"y":2.214},{"p":"e","i":4,"x":80.2,"y":2.082},
{"p":"r","i":1,"x":45.1,"y":148.4},{"p":"r","i":2,"x":45.1,"y":154.8},{"p":"r","i":3,"x":80.2,"y":154.8},{"p":"r","i":4,"x":80.2,"y":148.4},
{"p":"f","i":1,"x":45.1,"y":148.8},{"p":"f","i":2,"x":45.1,"y":155.1},{"p":"f","i":3,"x":80.2,"y":155.1},{"p":"f","i":4,"x":80.2,"y":148.8}
],
"labels": [
{"p":"L","x":58.05,"y":2.385,"text":"Leg Raise"},
{"p":"R","x":61.9,"y":2.385,"text":"Leg Raise"}
]
},
"columns": 2,
"spacing": {"row": 32, "column": 235.6},
"bounds": "flush",
"align": "each",
"concat": [
{
 "width": 677, "height": 252.6,
 "resolve": {"axis": {"x": "independent", "y": "independent"}},
 "layer": [
  {"data": {"name": "L"}, "mark": {"type": "rule", "color": "#008000", "strokeWidth": 1},
   "encoding": {
    "x": {"field": "t", "type": "quantitative", "scale": {"domain": [-12, 102], "nice": false, "zero": false},
     "axis": {"orient": "bottom", "values": [-6,0,6,12,18,24,30,36,42,48,54,60,66,72,78,84,90,96], "title": null, "labels": false, "ticks": false, "domain": false, "grid": true,
      "gridColor": {"condition": {"test": "datum.value % 60 === 0", "value": "#e0dbc3"}, "value": "#ece8d8"},
      "gridWidth": {"condition": {"test": "datum.value % 60 === 0", "value": 2}, "value": 1.2}}},
    "y": {"field": "e3", "type": "quantitative", "scale": {"domain": [-0.7, 2], "nice": false, "zero": false},
     "axis": {"orient": "left", "values": [-0.5,-0.25,0,0.25,0.5,0.75,1,1.25,1.5,1.75,2], "title": null, "labels": false, "tickSize": 12, "grid": true,
      "gridColor": {"condition": {"test": "datum.value % 1 === 0", "value": "#e0dbc3"}, "value": "#ece8d8"}}},
    "y2": {"field": "e2"}}},
  {"data": {"name": "L"}, "mark": {"type": "line", "color": "#008000", "strokeWidth": 1.8},
   "encoding": {
    "x": {"field": "t", "type": "quantitative", "scale": {"domain": [-12, 102], "nice": false, "zero": false}, "axis": null},
    "y": {"field": "e1", "type": "quantitative", "scale": {"domain": [-0.7, 2], "nice": false, "zero": false}, "axis": null}}},
  {"data": {"name": "bars"}, "transform": [{"filter": "datum.p === 'e'"}], "mark": {"type": "rule", "color": "#111111", "strokeWidth": 2.5},
   "encoding": {
    "x": {"field": "x", "type": "quantitative", "scale": {"domain": [-12, 102], "nice": false, "zero": false}, "axis": null},
    "x2": {"field": "x2"},
    "y": {"field": "y", "type": "quantitative", "scale": {"domain": [-0.7, 2], "nice": false, "zero": false},
     "axis": {"orient": "left", "values": [0, 1, 2], "title": ["ECG", "V"], "tickSize": 23, "grid": false, "domain": false, "minExtent": 104.5, "maxExtent": 104.5, "titlePadding": 34}}}},
  {"data": {"name": "labels"}, "transform": [{"filter": "datum.p === 'L'"}], "mark": {"type": "text", "font": "Liberation Serif", "fontSize": 38, "color": "#000000", "align": "center", "baseline": "alphabetic"},
   "encoding": {
    "x": {"field": "x", "type": "quantitative", "scale": {"domain": [-12, 102], "nice": false, "zero": false}, "axis": null},
    "y": {"field": "y", "type": "quantitative", "scale": {"domain": [-0.7, 2], "nice": false, "zero": false}, "axis": null},
    "text": {"field": "text"}}}
 ]
},
{
 "width": 642, "height": 252.6,
 "resolve": {"axis": {"x": "independent", "y": "independent"}},
 "layer": [
  {"data": {"name": "R"}, "mark": {"type": "rule", "color": "#008000", "strokeWidth": 1},
   "encoding": {
    "x": {"field": "t", "type": "quantitative", "scale": {"domain": [0, 108], "nice": false, "zero": false},
     "axis": {"orient": "bottom", "values": [0,6,12,18,24,30,36,42,48,54,60,66,72,78,84,90,96,102], "title": null, "labels": false, "ticks": false, "domain": false, "grid": true,
      "gridColor": {"condition": {"test": "datum.value % 60 === 0", "value": "#e0dbc3"}, "value": "#ece8d8"},
      "gridWidth": {"condition": {"test": "datum.value % 60 === 0", "value": 2}, "value": 1.2}}},
    "y": {"field": "e3", "type": "quantitative", "scale": {"domain": [-0.7, 2], "nice": false, "zero": false},
     "axis": {"orient": "left", "values": [-0.5,-0.25,0,0.25,0.5,0.75,1,1.25,1.5,1.75,2], "title": null, "labels": false, "tickSize": 12, "grid": true,
      "gridColor": {"condition": {"test": "datum.value % 1 === 0", "value": "#e0dbc3"}, "value": "#ece8d8"}}},
    "y2": {"field": "e2"}}},
  {"data": {"name": "R"}, "mark": {"type": "line", "color": "#008000", "strokeWidth": 1.8},
   "encoding": {
    "x": {"field": "t", "type": "quantitative", "scale": {"domain": [0, 108], "nice": false, "zero": false}, "axis": null},
    "y": {"field": "e1", "type": "quantitative", "scale": {"domain": [-0.7, 2], "nice": false, "zero": false}, "axis": null}}},
  {"data": {"name": "brackets"}, "transform": [{"filter": "datum.p === 'e'"}], "mark": {"type": "line", "color": "#111111", "strokeWidth": 2.5, "strokeJoin": "miter"},
   "encoding": {
    "x": {"field": "x", "type": "quantitative", "scale": {"domain": [0, 108], "nice": false, "zero": false}, "axis": null},
    "y": {"field": "y", "type": "quantitative", "scale": {"domain": [-0.7, 2], "nice": false, "zero": false},
     "axis": {"orient": "left", "values": [0, 1, 2], "title": null, "tickSize": 23, "grid": false, "domain": false}},
    "order": {"field": "i", "type": "quantitative"}}},
  {"data": {"name": "labels"}, "transform": [{"filter": "datum.p === 'R'"}], "mark": {"type": "text", "font": "Liberation Serif", "fontSize": 38, "color": "#000000", "align": "center", "baseline": "alphabetic"},
   "encoding": {
    "x": {"field": "x", "type": "quantitative", "scale": {"domain": [0, 108], "nice": false, "zero": false}, "axis": null},
    "y": {"field": "y", "type": "quantitative", "scale": {"domain": [-0.7, 2], "nice": false, "zero": false}, "axis": null},
    "text": {"field": "text"}}}
 ]
},
{
 "width": 677, "height": 252.6,
 "resolve": {"axis": {"x": "independent", "y": "independent"}},
 "layer": [
  {"data": {"name": "L"}, "transform": [{"fold": ["r1", "r2", "r3"], "as": ["k", "v"]}], "mark": {"type": "line", "color": "#ff0000", "strokeWidth": 1},
   "encoding": {
    "x": {"field": "t", "type": "quantitative", "scale": {"domain": [-12, 102], "nice": false, "zero": false},
     "axis": {"orient": "bottom", "values": [-6,0,6,12,18,24,30,36,42,48,54,60,66,72,78,84,90,96], "title": null, "labels": false, "ticks": false, "domain": false, "grid": true,
      "gridColor": {"condition": {"test": "datum.value % 60 === 0", "value": "#e0dbc3"}, "value": "#ece8d8"},
      "gridWidth": {"condition": {"test": "datum.value % 60 === 0", "value": 2}, "value": 1.2}}},
    "y": {"field": "v", "type": "quantitative", "scale": {"domain": [25, 145], "nice": false, "zero": false},
     "axis": {"orient": "left", "values": [25,30,35,40,45,50,55,60,65,70,75,80,85,90,95,100,105,110,115,120,125,130,135,140,145], "title": null, "labels": false, "tickSize": 12, "grid": true,
      "gridColor": {"condition": {"test": "datum.value % 25 === 0", "value": "#e0dbc3"}, "value": "#ece8d8"}}},
    "order": [{"field": "t", "type": "quantitative"}, {"field": "k", "type": "ordinal"}]}},
  {"data": {"name": "bars"}, "transform": [{"filter": "datum.p === 'r'"}], "mark": {"type": "rule", "color": "#111111", "strokeWidth": 2.5},
   "encoding": {
    "x": {"field": "x", "type": "quantitative", "scale": {"domain": [-12, 102], "nice": false, "zero": false}, "axis": null},
    "x2": {"field": "x2"},
    "y": {"field": "y", "type": "quantitative", "scale": {"domain": [25, 145], "nice": false, "zero": false},
     "axis": {"orient": "left", "values": [25, 50, 75, 100, 125], "title": ["Radial BP", "mmHg"], "tickSize": 23, "grid": false, "domain": false, "minExtent": 104.5, "maxExtent": 104.5, "titlePadding": 34}}}}
 ]
},
{
 "width": 642, "height": 252.6,
 "resolve": {"axis": {"x": "independent", "y": "independent"}},
 "layer": [
  {"data": {"name": "R"}, "transform": [{"fold": ["r1", "r2", "r3"], "as": ["k", "v"]}], "mark": {"type": "line", "color": "#ff0000", "strokeWidth": 1},
   "encoding": {
    "x": {"field": "t", "type": "quantitative", "scale": {"domain": [0, 108], "nice": false, "zero": false},
     "axis": {"orient": "bottom", "values": [0,6,12,18,24,30,36,42,48,54,60,66,72,78,84,90,96,102], "title": null, "labels": false, "ticks": false, "domain": false, "grid": true,
      "gridColor": {"condition": {"test": "datum.value % 60 === 0", "value": "#e0dbc3"}, "value": "#ece8d8"},
      "gridWidth": {"condition": {"test": "datum.value % 60 === 0", "value": 2}, "value": 1.2}}},
    "y": {"field": "v", "type": "quantitative", "scale": {"domain": [25, 145], "nice": false, "zero": false},
     "axis": {"orient": "left", "values": [25,30,35,40,45,50,55,60,65,70,75,80,85,90,95,100,105,110,115,120,125,130,135,140,145], "title": null, "labels": false, "tickSize": 12, "grid": true,
      "gridColor": {"condition": {"test": "datum.value % 25 === 0", "value": "#e0dbc3"}, "value": "#ece8d8"}}},
    "order": [{"field": "t", "type": "quantitative"}, {"field": "k", "type": "ordinal"}]}},
  {"data": {"name": "brackets"}, "transform": [{"filter": "datum.p === 'r'"}], "mark": {"type": "line", "color": "#111111", "strokeWidth": 2.5, "strokeJoin": "miter"},
   "encoding": {
    "x": {"field": "x", "type": "quantitative", "scale": {"domain": [0, 108], "nice": false, "zero": false}, "axis": null},
    "y": {"field": "y", "type": "quantitative", "scale": {"domain": [25, 145], "nice": false, "zero": false},
     "axis": {"orient": "left", "values": [25, 50, 75, 100, 125], "title": null, "tickSize": 23, "grid": false, "domain": false}},
    "order": {"field": "i", "type": "quantitative"}}}
 ]
},
{
 "width": 677, "height": 252.6,
 "resolve": {"axis": {"x": "independent", "y": "independent"}},
 "layer": [
  {"data": {"name": "L"}, "transform": [{"fold": ["f1", "f2", "f3"], "as": ["k", "v"]}], "mark": {"type": "line", "color": "#0000ff", "strokeWidth": 1},
   "encoding": {
    "x": {"field": "t", "type": "quantitative", "scale": {"domain": [-12, 102], "nice": false, "zero": false},
     "axis": {"orient": "bottom", "values": [-6,0,6,12,18,24,30,36,42,48,54,60,66,72,78,84,90,96], "title": null, "labels": false, "tickSize": 12, "grid": true,
      "gridColor": {"condition": {"test": "datum.value % 60 === 0", "value": "#e0dbc3"}, "value": "#ece8d8"},
      "gridWidth": {"condition": {"test": "datum.value % 60 === 0", "value": 2}, "value": 1.2}}},
    "y": {"field": "v", "type": "quantitative", "scale": {"domain": [25, 145], "nice": false, "zero": false},
     "axis": {"orient": "left", "values": [25,30,35,40,45,50,55,60,65,70,75,80,85,90,95,100,105,110,115,120,125,130,135,140,145], "title": null, "labels": false, "tickSize": 12, "grid": true,
      "gridColor": {"condition": {"test": "datum.value % 25 === 0", "value": "#e0dbc3"}, "value": "#ece8d8"}}},
    "order": [{"field": "t", "type": "quantitative"}, {"field": "k", "type": "ordinal"}]}},
  {"data": {"name": "bars"}, "transform": [{"filter": "datum.p === 'f'"}], "mark": {"type": "rule", "color": "#111111", "strokeWidth": 2.5},
   "encoding": {
    "x": {"field": "x", "type": "quantitative", "scale": {"domain": [-12, 102], "nice": false, "zero": false},
     "axis": {"orient": "bottom", "values": [0, 60], "title": null, "tickSize": 23, "grid": false, "domain": false, "labelExpr": "datum.value === 0 ? '14:40:00' : '14:41:00'"}},
    "x2": {"field": "x2"},
    "y": {"field": "y", "type": "quantitative", "scale": {"domain": [25, 145], "nice": false, "zero": false},
     "axis": {"orient": "left", "values": [25, 50, 75, 100, 125], "title": ["Finger BP", "mmHg"], "tickSize": 23, "grid": false, "domain": false, "minExtent": 104.5, "maxExtent": 104.5, "titlePadding": 34}}}}
 ]
},
{
 "width": 642, "height": 252.6,
 "resolve": {"axis": {"x": "independent", "y": "independent"}},
 "layer": [
  {"data": {"name": "R"}, "transform": [{"fold": ["f1", "f2", "f3"], "as": ["k", "v"]}], "mark": {"type": "line", "color": "#0000ff", "strokeWidth": 1},
   "encoding": {
    "x": {"field": "t", "type": "quantitative", "scale": {"domain": [0, 108], "nice": false, "zero": false},
     "axis": {"orient": "bottom", "values": [0,6,12,18,24,30,36,42,48,54,60,66,72,78,84,90,96,102], "title": null, "labels": false, "tickSize": 12, "grid": true,
      "gridColor": {"condition": {"test": "datum.value % 60 === 0", "value": "#e0dbc3"}, "value": "#ece8d8"},
      "gridWidth": {"condition": {"test": "datum.value % 60 === 0", "value": 2}, "value": 1.2}}},
    "y": {"field": "v", "type": "quantitative", "scale": {"domain": [25, 145], "nice": false, "zero": false},
     "axis": {"orient": "left", "values": [25,30,35,40,45,50,55,60,65,70,75,80,85,90,95,100,105,110,115,120,125,130,135,140,145], "title": null, "labels": false, "tickSize": 12, "grid": true,
      "gridColor": {"condition": {"test": "datum.value % 25 === 0", "value": "#e0dbc3"}, "value": "#ece8d8"}}},
    "order": [{"field": "t", "type": "quantitative"}, {"field": "k", "type": "ordinal"}]}},
  {"data": {"name": "brackets"}, "transform": [{"filter": "datum.p === 'f'"}], "mark": {"type": "line", "color": "#111111", "strokeWidth": 2.5, "strokeJoin": "miter"},
   "encoding": {
    "x": {"field": "x", "type": "quantitative", "scale": {"domain": [0, 108], "nice": false, "zero": false},
     "axis": {"orient": "bottom", "values": [0, 60], "title": null, "tickSize": 23, "grid": false, "domain": false, "labelExpr": "datum.value === 0 ? '15:22:00' : '15:23:00'"}},
    "y": {"field": "y", "type": "quantitative", "scale": {"domain": [25, 145], "nice": false, "zero": false},
     "axis": {"orient": "left", "values": [25, 50, 75, 100, 125], "title": null, "tickSize": 23, "grid": false, "domain": false}},
    "order": {"field": "i", "type": "quantitative"}}}
 ]
}
]
}
